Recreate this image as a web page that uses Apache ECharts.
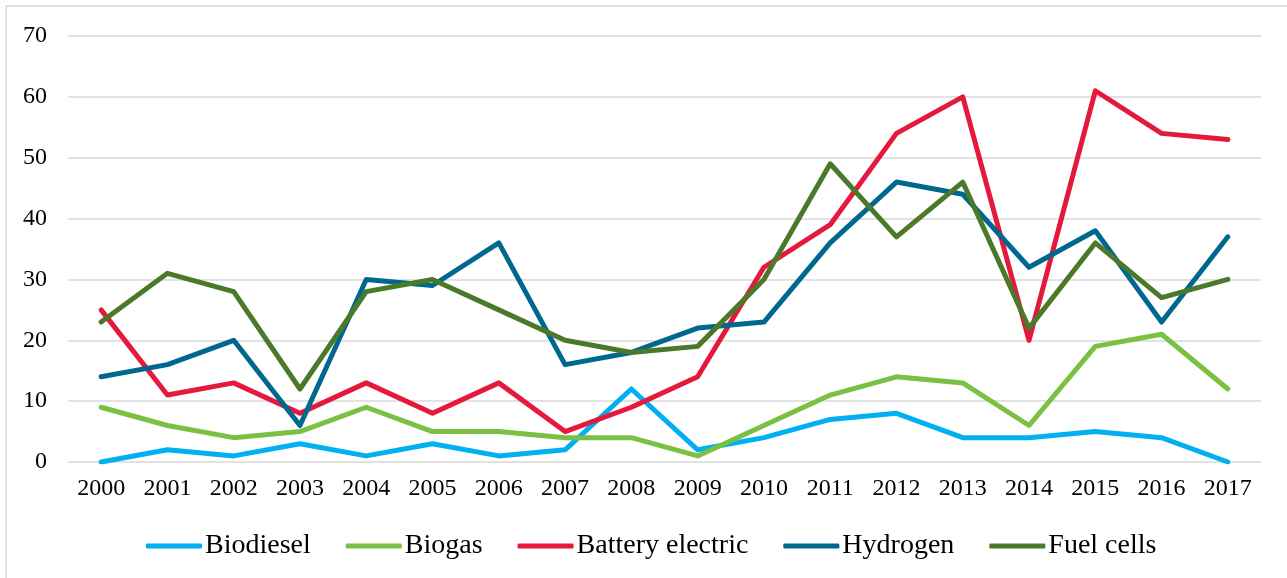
<!DOCTYPE html>
<html>
<head>
<meta charset="utf-8">
<script src="https://cdn.jsdelivr.net/npm/echarts@6/dist/echarts.min.js"></script>
<style>
html,body{margin:0;padding:0;background:#fff;}
#chart{width:1287px;height:578px;}
</style>
</head>
<body>
<div id="chart"></div>
<script>
const years = ['2000','2001','2002','2003','2004','2005','2006','2007','2008','2009','2010','2011','2012','2013','2014','2015','2016','2017'];
const biodiesel = [0,2,1,3,1,3,1,2,12,2,4,7,8,4,4,5,4,0];
const biogas = [9,6,4,5,9,5,5,4,4,1,6,11,14,13,6,19,21,12];
const batteryElectric = [25,11,13,8,13,8,13,5,9,14,32,39,54,60,20,61,54,53];
const hydrogen = [14,16,20,6,30,29,36,16,18,22,23,36,46,44,32,38,23,37];
const fuelCells = [23,31,28,12,28,30,25,20,18,19,30,49,37,46,22,36,27,30];

const seriesDefs = [
  {name:'Biodiesel', data:biodiesel, color:'#00B0F0'},
  {name:'Biogas', data:biogas, color:'#7AC143'},
  {name:'Battery electric', data:batteryElectric, color:'#E4193B'},
  {name:'Hydrogen', data:hydrogen, color:'#00688F'},
  {name:'Fuel cells', data:fuelCells, color:'#4A7A29'}
];

const font = '"Liberation Serif", "Times New Roman", serif';
const chart = echarts.init(document.getElementById('chart'), null, {renderer:'canvas'});
chart.setOption({
  animation:false,
  backgroundColor:'#fff',
  graphic:[{
    type:'rect', shape:{x:6,y:6,width:1300,height:600},
    style:{fill:'none', stroke:'#d9d9d9', lineWidth:1.5}, silent:true
  }],
  grid:{left:68, right:26, top:36, bottom:116, containLabel:false},
  legend:{
    top:527, left:141,
    itemWidth:56, itemHeight:5, itemGap:35,
    icon:'roundRect',
    textStyle:{fontFamily:font, fontSize:28, color:'#000', padding:[0,0,0,-2]},
    data: seriesDefs.map(s=>({name:s.name, itemStyle:{color:s.color}}))
  },
  xAxis:{
    type:'category', data:years, boundaryGap:true,
    axisLine:{show:false}, axisTick:{show:false},
    axisLabel:{fontFamily:font, fontSize:24, color:'#000', margin:15}
  },
  yAxis:{
    type:'value', min:0, max:70, interval:10,
    axisLine:{show:false}, axisTick:{show:false},
    axisLabel:{fontFamily:font, fontSize:24, color:'#000', margin:21},
    splitLine:{lineStyle:{color:'#d9d9d9', width:1.5}}
  },
  series: seriesDefs.map(s=>({
    name:s.name, type:'line', data:s.data, symbol:'none',
    lineStyle:{width:5, color:s.color, cap:'round', join:'round'},
    itemStyle:{color:s.color}
  }))
});
</script>
</body>
</html>
